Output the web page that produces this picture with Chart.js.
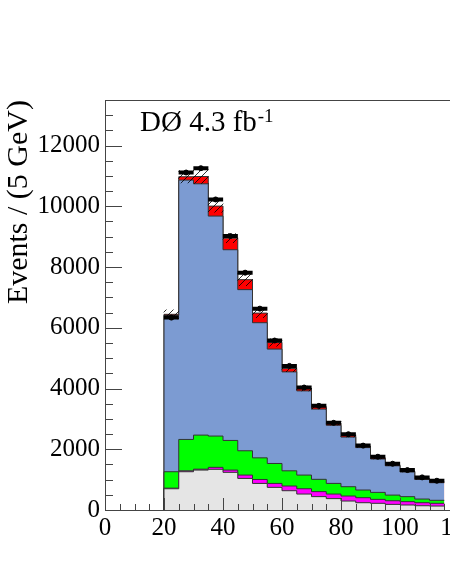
<!DOCTYPE html>
<html>
<head>
<meta charset="utf-8">
<script src="https://cdn.jsdelivr.net/npm/chart.js@4.4.0/dist/chart.umd.min.js"></script>
<style>
  html, body { margin: 0; padding: 0; background: #fff; overflow: hidden; width: 450px; height: 582px; }
  #wrap { width: 500px; height: 582px; }
</style>
</head>
<body>
<div id="wrap"><canvas id="chart" width="500" height="582"></canvas></div>
<script>
// lower bin edges (5 GeV bins)
const binLow = [20, 25, 30, 35, 40, 45, 50, 55, 60, 65, 70, 75, 80, 85, 90, 95, 100, 105, 110];
const binWidth = 5;

// individual contributions, bottom to top
const greyBkg    = [700, 1260, 1315, 1340, 1240, 1040, 875, 745, 635, 525, 440, 375, 295, 240, 220, 185, 165, 140, 130];
const magentaBkg = [20, 30, 30, 65, 75, 110, 130, 130, 155, 175, 165, 150, 165, 165, 130, 120, 110, 100, 90];
const greenBkg   = [540, 1033, 1121, 1030, 975, 800, 712, 657, 500, 450, 405, 351, 307, 253, 230, 186, 164, 121, 99];
const blueMain   = [5150, 8540, 8275, 7243, 6280, 5306, 4450, 3766, 3258, 2772, 2312, 1913, 1633, 1397, 1099, 964, 811, 646, 580];
const redSignal  = [33, 110, 240, 329, 380, 328, 317, 220, 110, 77, 80, 70, 60, 45, 40, 33, 31, 32, 32];

// syst. uncertainty on total prediction
const mcErr = [150, 200, 230, 200, 150, 200, 150, 120, 100, 80, 70, 60, 50, 40, 35, 30, 25, 20, 20];

// data
const dataVals = [6335, 11112, 11254, 10225, 9020, 7814, 6630, 5580, 4745, 4033, 3430, 2870, 2495, 2120, 1754, 1523, 1315, 1074, 964];

const yTicks = { min: 0, max: 13500, step: 2000, last: 12000, minor: 500 };
const xTicks = { min: 0, max: 130, step: 20, minor: 5 };

const layers = [
  { vals: greyBkg,    color: "#e5e5e5" },
  { vals: magentaBkg, color: "#ff00ff" },
  { vals: greenBkg,   color: "#00ff00" },
  { vals: blueMain,   color: "#7c9bd2" },
  { vals: redSignal,  color: "#ff0000" },
];

// running sums -> stacked step outlines
let running = binLow.map(() => 0);
const stepSets = layers.map((layer, k) => {
  running = running.map((v, i) => v + layer.vals[i]);
  const pts = [{ x: binLow[0], y: 0 }];
  binLow.forEach((x, i) => pts.push({ x, y: running[i] }));
  pts.push({ x: binLow[binLow.length - 1] + binWidth, y: running[running.length - 1] });
  return {
    type: "line",
    data: pts,
    stepped: true,
    fill: "origin",
    backgroundColor: layer.color,
    borderColor: "#333",
    borderWidth: 1,
    pointRadius: 0,
    order: 2 + k,
  };
});
const total = running;
const centers = binLow.map((x) => x + binWidth / 2);

// hatch pattern for the uncertainty band
function hatch() {
  const c = document.createElement("canvas");
  c.width = 7;
  c.height = 7;
  const g = c.getContext("2d");
  g.strokeStyle = "#000";
  g.lineWidth = 0.8;
  g.beginPath();
  g.moveTo(0, 7);
  g.lineTo(7, 0);
  g.stroke();
  return g.createPattern(c, "repeat");
}

const bandSet = {
  type: "bar",
  data: centers.map((x, i) => ({ x, y: [total[i] - mcErr[i], total[i] + mcErr[i]] })),
  backgroundColor: hatch(),
  borderWidth: 0,
  barPercentage: 1,
  categoryPercentage: 1,
  order: 1,
};

const dataBar = {
  type: "line",
  data: centers.map((x, i) => ({ x, y: dataVals[i] })),
  showLine: false,
  pointStyle: "line",
  pointRadius: 7.5,
  pointBorderWidth: 4,
  pointBorderColor: "#000",
  order: 0,
};
const dataDot = {
  type: "line",
  data: centers.map((x, i) => ({ x, y: dataVals[i] })),
  showLine: false,
  pointStyle: "circle",
  pointRadius: 2.5,
  pointBackgroundColor: "#000",
  pointBorderColor: "#000",
  order: 0,
};

// inward ticks, top frame line and the DØ label
const frame = {
  id: "frame",
  afterDatasetsDraw(chart) {
    const { ctx, chartArea: a, scales: { x, y } } = chart;
    ctx.save();
    ctx.strokeStyle = "#444";
    ctx.lineWidth = 1;
    ctx.beginPath();
    for (let v = yTicks.min; v <= yTicks.max; v += yTicks.minor) {
      const py = Math.round(y.getPixelForValue(v)) + 0.5;
      const len = v % yTicks.step === 0 ? 17 : 8;
      ctx.moveTo(a.left, py);
      ctx.lineTo(a.left + len, py);
    }
    for (let v = xTicks.min; v <= xTicks.max; v += xTicks.minor) {
      const px = Math.round(x.getPixelForValue(v)) + 0.5;
      const len = v % xTicks.step === 0 ? 12 : 6;
      ctx.moveTo(px, a.bottom);
      ctx.lineTo(px, a.bottom - len);
    }
    ctx.moveTo(a.left, a.top + 0.5);
    ctx.lineTo(a.right, a.top + 0.5);
    ctx.stroke();

    ctx.fillStyle = "#000";
    ctx.textBaseline = "alphabetic";
    ctx.font = '29px "Liberation Serif"';
    const label = "DØ 4.3 fb";
    ctx.fillText(label, 140, 131);
    const w = ctx.measureText(label).width;
    ctx.font = '19px "Liberation Serif"';
    ctx.fillText("-1", 140 + w + 1, 122);
    ctx.restore();
  },
};

new Chart(document.getElementById("chart"), {
  type: "line",
  data: { datasets: [...stepSets, bandSet, dataBar, dataDot] },
  options: {
    responsive: false,
    animation: false,
    layout: { padding: { top: 100, left: 0, right: 0, bottom: 0 } },
    plugins: { legend: { display: false }, tooltip: { enabled: false } },
    scales: {
      x: {
        type: "linear",
        min: xTicks.min,
        max: xTicks.max,
        offset: false,
        grid: { display: false, drawTicks: false },
        border: { display: true, color: "#444", width: 1 },
        ticks: {
          stepSize: xTicks.step,
          includeBounds: false,
          maxRotation: 0,
          color: "#000",
          padding: 3,
          font: { family: "Liberation Serif", size: 25 },
          callback: (v) => String(v),
        },
        afterFit: (s) => {
          s.height = 72;
          s.paddingLeft = 0;
          s.paddingRight = 0;
        },
      },
      y: {
        type: "linear",
        min: yTicks.min,
        max: yTicks.max,
        grid: { display: false, drawTicks: false },
        border: { display: true, color: "#444", width: 1 },
        afterBuildTicks: (s) => {
          const t = [];
          for (let v = yTicks.min; v <= yTicks.last; v += yTicks.step) t.push({ value: v });
          s.ticks = t;
        },
        ticks: {
          color: "#000",
          padding: 5,
          font: { family: "Liberation Serif", size: 25 },
          callback: (v) => String(v),
        },
        title: {
          display: true,
          text: "Events / (5 GeV)",
          align: "end",
          color: "#000",
          padding: { top: 1, bottom: 0 },
          font: { family: "Liberation Serif", size: 30 },
        },
        afterFit: (s) => {
          s.width = 105;
          s.paddingTop = 0;
          s.paddingBottom = 0;
        },
      },
    },
  },
  plugins: [frame],
});
</script>
</body>
</html>
